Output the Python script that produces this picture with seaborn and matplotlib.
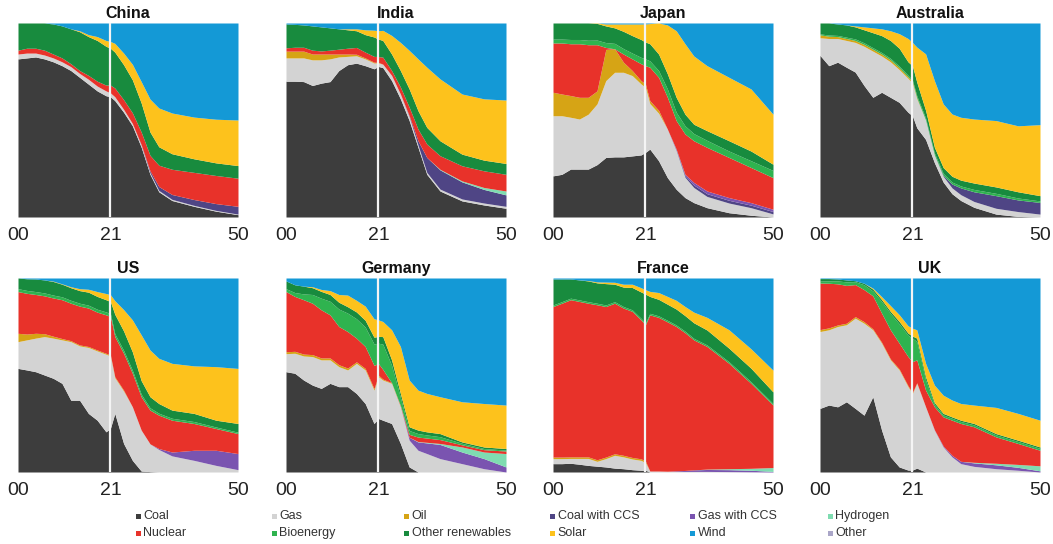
import matplotlib
matplotlib.use("Agg")
import matplotlib.pyplot as plt
from matplotlib.patches import Rectangle
import pandas as pd
import seaborn as sns

# Years sampled for every country (history to 2021, projection after)
YEARS = [2000, 2002, 2004, 2006, 2008, 2010, 2012, 2014, 2016, 2018, 2020, 2021,
         2022, 2024, 2026, 2028, 2030, 2032, 2035, 2040, 2045, 2050]
PROJECTION_START = 2021
TICK_YEARS = [2000, 2021, 2050]
TICK_LABELS = ["00", "21", "50"]

SOURCES = ["Coal", "Gas", "Oil", "Coal with CCS", "Gas with CCS", "Hydrogen",
           "Nuclear", "Bioenergy", "Other renewables", "Solar", "Wind", "Other"]
COLORS = ["#3d3d3d", "#d3d3d3", "#d6a415", "#4f4585", "#7a54b0", "#7fdcb1",
          "#e8322a", "#2fb34f", "#188b3e", "#fdc21c", "#1499d6", "#aaa6c8"]

# Share of electricity generation by source, %
CHINA = {
    "Coal": [81.5, 82, 82.5, 81.5, 80, 78, 75.5, 72, 68.5, 65, 62.5, 62,
             60, 54, 47, 36, 22, 13, 8.5, 5.5, 3, 1.2],
    "Gas": [2.5, 2.5, 2, 2, 2, 2, 2, 2, 2.5, 2.5, 2.5, 2,
            2, 1.5, 1.2, 1, 0.8, 0.7, 0.6, 0.5, 0.4, 0.3],
    "Coal with CCS": [0, 0, 0, 0, 0, 0, 0, 0, 0, 0, 0, 0,
                      0, 0, 0, 0.3, 1, 2, 2.5, 3, 3.5, 4],
    "Nuclear": [2, 2.5, 2.5, 2.5, 2, 2, 1.5, 1.5, 2, 2.5, 3, 4,
                4.5, 5, 5.5, 6.5, 8, 11, 13, 14, 14.5, 14.5],
    "Other renewables": [14, 13, 13, 14, 15.5, 16.5, 18, 20, 20, 21, 20, 19,
                         18.5, 18, 17, 15, 12, 9.5, 8, 7, 6.5, 6.5],
    "Solar": [0, 0, 0, 0, 0, 0, 0, 0.5, 1, 2, 3, 3.5,
              4.5, 6, 8, 11, 17, 20, 21, 21.5, 22.5, 23.5],
    "Wind": [0, 0, 0, 0, 0.5, 1.5, 3, 4, 6, 7, 9, 9.5,
             10.5, 15.5, 21.3, 30.2, 39.2, 43.8, 46.4, 48.5, 49.6, 50],
}

INDIA = {
    "Coal": [70, 70, 69.8, 67.8, 69, 69.8, 75.5, 78.5, 79.3, 78, 76.4, 77.6,
             77, 70.3, 60.9, 49.7, 35.9, 22, 13.4, 8.3, 6.2, 4.5],
    "Gas": [12, 12, 12.2, 13.2, 12, 11.7, 7, 4.3, 3.8, 3.5, 3, 1.8,
            1.8, 2.7, 2.5, 2, 1.2, 1, 1, 1, 1, 1],
    "Oil": [3.5, 3.5, 3.5, 3, 3, 2.5, 1.5, 1.2, 0.8, 0.5, 0.4, 0.3,
            0, 0, 0, 0, 0, 0, 0, 0, 0, 0],
    "Coal with CCS": [0, 0, 0, 0, 0, 0, 0, 0, 0, 0, 0, 0,
                      0, 0, 0, 0.5, 2.2, 7.7, 9.9, 8.8, 7, 5.9],
    "Hydrogen": [0, 0, 0, 0, 0, 0, 0, 0, 0, 0, 0, 0,
                 0, 0, 0, 0, 0, 0, 0.3, 0.5, 1, 2],
    "Nuclear": [1.7, 2, 2, 2, 1.6, 2, 2.5, 3, 3.5, 3, 3, 3,
                3.6, 2.5, 3.6, 4.4, 6, 6.9, 7, 7.8, 8.6, 8.6],
    "Other renewables": [12.3, 11.8, 11.5, 12.5, 12.4, 11.5, 10.5, 9.5, 8.6, 9, 10, 9,
                         8.6, 8.5, 8.5, 9.4, 9.5, 8.6, 7.7, 6, 5.5, 5.6],
    "Solar": [0, 0, 0, 0, 0, 0, 0, 0.5, 1, 2.5, 3.5, 4.3,
              5.2, 9.6, 14.5, 19.9, 26.7, 31, 31.9, 31, 31.6, 32.7],
    "Wind": [0.5, 0.7, 1, 1.5, 2, 2.5, 3, 3, 3, 3.5, 3.7, 4,
             3.8, 6.4, 10, 14.1, 18.5, 22.8, 28.8, 36.6, 39.1, 39.7],
}

JAPAN = {
    "Coal": [21.2, 22, 24.7, 24.7, 24.7, 27, 30.7, 31, 31, 31.5, 32, 33.3,
             35, 29, 20.3, 14.3, 10, 7.4, 4.8, 2.2, 0.9, 0],
    "Gas": [31, 30.2, 26.7, 25.8, 28.3, 31.3, 39.6, 43.6, 43.6, 41.4, 36.6, 33.6,
            23.5, 24.5, 25, 20, 10.5, 7.8, 5.8, 5, 3.9, 1.6],
    "Oil": [12.1, 11.2, 11.2, 11.2, 8.7, 6.7, 16.1, 12.1, 5.2, 2.6, 1.7, 1.7,
            1.5, 1.5, 0, 0, 0, 0, 0, 0, 0, 0],
    "Coal with CCS": [0, 0, 0, 0, 0, 0, 0, 0, 0, 0, 0, 0,
                      0, 0, 0, 0.35, 0.8, 1.3, 1.4, 1.4, 1.3, 1.2],
    "Gas with CCS": [0, 0, 0, 0, 0, 0, 0, 0, 0, 0, 0, 0,
                     0, 0, 0, 0.35, 0.7, 1.3, 1.4, 1.4, 1.3, 1.2],
    "Nuclear": [25.4, 26.3, 26.7, 27.6, 27.1, 23.8, 1, 0, 4.2, 6, 8.7, 9.4,
                17.2, 17, 16.4, 14.7, 20.8, 21.5, 22.5, 20.7, 18.1, 16.3],
    "Bioenergy": [2, 2, 2.2, 2.2, 2.3, 2.4, 2.5, 2.8, 2.8, 3, 3.3, 3.5,
                  3.3, 3.5, 4.3, 4.3, 4.2, 3.7, 3.6, 3.3, 3.5, 3.7],
    "Other renewables": [8.3, 8.3, 8.5, 8.5, 8.9, 8.6, 8.6, 8, 8.9, 9, 9.2, 8.7,
                         8.8, 8.5, 7.8, 7.7, 6, 4.8, 5, 5.3, 5, 3.2],
    "Solar": [0, 0, 0, 0, 0, 0.2, 1, 2, 3.8, 6, 8, 9.3,
              10.4, 16, 25.2, 34.3, 36.3, 35.2, 33.5, 32.7, 32, 25.8],
    "Wind": [0, 0, 0, 0, 0, 0, 0.5, 0.5, 0.5, 0.5, 0.5, 0.5,
             0.3, 0, 1, 4, 10.7, 17, 22, 28, 34, 47],
}

AUSTRALIA = {
    "Coal": [83.3, 78, 79.8, 77.2, 74.7, 67.8, 61.7, 64.3, 61.7, 59.1, 54, 52.2,
             46, 40, 28, 18, 12, 8.5, 5, 1.5, 0.3, 0],
    "Gas": [9.1, 14, 12.2, 13.8, 15.3, 20.2, 23.8, 18.7, 18.3, 16.9, 17.5, 16.8,
            15, 10, 4, 3, 3, 3, 3, 3, 2.5, 1.5],
    "Oil": [1.5, 1.2, 1, 1, 1, 1, 1, 1, 1, 1, 0.8, 0.8,
            0.5, 0, 0, 0, 0, 0, 0, 0, 0, 0],
    "Coal with CCS": [0, 0, 0, 0, 0, 0, 0, 0, 0, 0, 0, 0,
                      0, 0, 0, 0.5, 2, 3.5, 5, 6.5, 6, 6],
    "Bioenergy": [0.5, 0.6, 0.6, 0.7, 0.8, 0.8, 0.8, 0.8, 0.8, 0.8, 0.8, 0.8,
                  1, 1, 1, 1, 1, 1, 1.2, 1.2, 1, 0.8],
    "Other renewables": [5.6, 6.2, 5.9, 6.3, 6.2, 6.7, 7.7, 8.7, 9.2, 9.2, 6.9, 7.4,
                         7, 4, 3, 3, 3, 3, 3.3, 3.3, 3.2, 2.7],
    "Solar": [0, 0, 0, 0, 0.5, 1.5, 2.5, 3.5, 5, 7.5, 12, 12,
              18.1, 29.1, 34.3, 32.8, 32.1, 32.4, 33, 34.2, 34, 36.6],
    "Wind": [0, 0, 0.5, 1, 1.5, 2, 2.5, 3, 4, 5.5, 8, 10,
             12.4, 15.9, 29.7, 41.7, 46.9, 48.6, 49.5, 50.3, 53, 52.4],
}

US = {
    "Coal": [53.4, 52.6, 51.7, 50, 48.3, 45.7, 37, 37, 30.2, 26.7, 20.7, 22.5,
             30.2, 14.7, 6, 0.5, 0.2, 0, 0, 0, 0, 0],
    "Gas": [13.8, 15.5, 17.3, 19.8, 20.7, 22.4, 30.2, 28, 34, 35.7, 40, 37.3,
            18.4, 27, 27.6, 21.1, 14.3, 11.6, 8.3, 6, 3.4, 1.2],
    "Oil": [4.3, 3, 2.5, 1.5, 1, 0.7, 0.5, 0.5, 0.5, 0.5, 0.5, 0.5,
            0.5, 0.5, 0, 0, 0, 0, 0, 0, 0, 0],
    "Gas with CCS": [0, 0, 0, 0, 0, 0, 0, 0, 0, 0, 0, 0,
                     0, 0, 0, 0, 0, 0.5, 2, 5.2, 7.8, 8.3],
    "Nuclear": [21.5, 21, 20, 19.5, 19.7, 20, 19.3, 20, 19.8, 19.5, 19.8, 19.9,
                20.7, 19, 17.3, 17.2, 17.4, 17.2, 16.4, 13.8, 11.2, 10.3],
    "Bioenergy": [1.5, 1.5, 1.5, 1.5, 1.5, 1.5, 1.5, 1.5, 1.5, 1.5, 1.5, 1.5,
                  1.5, 1.5, 1.5, 1.3, 1.2, 1, 1, 1, 0.8, 0.7],
    "Other renewables": [5.5, 6, 6.5, 6.7, 7, 6.5, 6.5, 6.5, 6.7, 6.6, 6.3, 6.2,
                         10, 10, 9.5, 7, 5.7, 5, 4.2, 4.2, 3.5, 4.5],
    "Solar": [0, 0, 0, 0, 0.2, 0.2, 0.5, 1, 1.5, 2.5, 3.2, 3.5,
              7, 11, 16.5, 23.6, 24.1, 23.3, 24.1, 24.5, 27.6, 28.4],
    "Wind": [0, 0.4, 0.5, 1, 1.6, 3, 4.5, 5.5, 5.8, 7, 8, 8.6,
             11.7, 16.3, 21.6, 29.3, 37.1, 41.4, 44, 45.3, 45.7, 46.6],
}

GERMANY = {
    "Coal": [51.7, 50.9, 47.4, 44.8, 43.1, 45.7, 44, 44, 40.5, 35.3, 25, 27.6,
             26.7, 25, 14.7, 2.6, 0, 0, 0, 0, 0, 0],
    "Gas": [9.3, 10.3, 12.4, 14.7, 14.7, 12.1, 10.3, 8.6, 15.5, 17.3, 17.2, 21.5,
            20.7, 20.7, 18.9, 13.8, 11.2, 9.5, 6.9, 4.3, 1.7, 0],
    "Oil": [1, 1, 1, 1, 1, 1, 1, 1, 0.8, 0.8, 0.8, 0.8,
            0.5, 0.3, 0.2, 0, 0, 0, 0, 0, 0, 0],
    "Gas with CCS": [0, 0, 0, 0, 0, 0, 0, 0, 0, 0, 0, 0,
                     0, 0, 0, 1.5, 4.3, 5.5, 7.3, 6, 5.2, 2.6],
    "Hydrogen": [0, 0, 0, 0, 0, 0, 0, 0, 0, 0, 0, 0,
                 0, 0, 0, 0, 0.2, 0.3, 0.5, 2.6, 3.4, 6.9],
    "Nuclear": [31, 28.3, 28, 26.5, 24.8, 22.2, 19.7, 18.8, 12.2, 11.3, 12, 6,
                5, 0, 0.5, 1.5, 2.3, 2.2, 2, 1.1, 1.2, 1.3],
    "Bioenergy": [1.5, 2, 3, 4.5, 6, 7, 9, 9.5, 10, 10, 11, 10.5,
                  13, 9, 4.2, 2, 1.8, 1.6, 1.5, 0.8, 0.6, 0.5],
    "Other renewables": [4, 4, 4, 3.5, 3.5, 3.5, 3.5, 3.3, 3.5, 3.5, 3.5, 3.5,
                         3.9, 2.8, 2, 1.9, 1.8, 1.6, 1.6, 0.7, 0.8, 0.8],
    "Solar": [0, 0, 0, 0.5, 1, 2, 4, 6, 6, 7.3, 9.5, 8.5,
              7.8, 15.5, 24.2, 24.1, 20.6, 19.8, 19, 20.7, 22.4, 22.4],
    "Wind": [1.5, 3.5, 4.2, 4.5, 5.9, 6.5, 8.5, 8.8, 11.5, 14.5, 21, 21.6,
             22.4, 26.7, 35.3, 52.6, 57.8, 59.5, 61.2, 63.8, 64.7, 65.5],
}

FRANCE = {
    "Coal": [4.3, 4.3, 4.5, 4, 3.4, 3, 2.6, 2, 1.7, 1.2, 0.9, 0.9,
             0, 0, 0, 0, 0, 0, 0, 0, 0, 0],
    "Gas": [2.6, 2.6, 2.5, 3, 3.6, 2.5, 4.3, 6.6, 6.1, 5.5, 5.1, 4,
            0.5, 0.5, 0.4, 0.3, 0.3, 0.3, 0.3, 0.2, 0.1, 0],
    "Oil": [0.8, 0.8, 0.8, 0.8, 0.8, 0.8, 0.8, 0.8, 0.8, 0.8, 0.8, 0.8,
            0, 0, 0, 0, 0, 0, 0, 0, 0, 0],
    "Gas with CCS": [0, 0, 0, 0, 0, 0, 0, 0, 0, 0, 0, 0,
                     0, 0, 0, 0.3, 0.5, 0.8, 1, 1, 0.8, 0.3],
    "Hydrogen": [0, 0, 0, 0, 0, 0, 0, 0, 0, 0, 0, 0,
                 0, 0, 0, 0, 0, 0, 0.2, 0.5, 1, 2],
    "Nuclear": [77.6, 79.3, 81, 80.1, 79.2, 79.9, 77.6, 77.6, 75.9, 75.3, 71.6, 70.2,
                80.5, 79.2, 77, 74.4, 71, 67, 63.2, 54.3, 43.8, 32.2],
    "Bioenergy": [0.8, 0.8, 0.8, 0.8, 0.8, 0.8, 0.8, 0.8, 0.8, 0.8, 0.8, 0.8,
                  0.8, 0.8, 0.8, 0.8, 0.8, 0.8, 0.8, 0.8, 0.8, 0.8],
    "Other renewables": [13.4, 11.7, 9.9, 10.3, 10.7, 10.5, 11, 9, 10, 11.5, 13.6, 15,
                         8.7, 8.5, 8.3, 8.2, 8, 8, 7.7, 7, 7, 6],
    "Solar": [0, 0, 0, 0, 0.2, 0.5, 0.8, 1, 1.5, 1.7, 2.2, 2.3,
              2.6, 3.5, 4, 4.5, 4.7, 5.5, 6.5, 9.5, 10, 11.2],
    "Wind": [0.5, 0.5, 0.5, 1, 1.3, 2, 2.1, 2.2, 3.2, 3.2, 5, 6,
             6.9, 7.5, 9.5, 11.5, 14.7, 17.6, 20.3, 26.7, 36.5, 47.5],
}

UK = {
    "Coal": [32.8, 34.5, 33.6, 36.2, 32.8, 29.3, 38.8, 21.6, 7.8, 2.6, 1, 1,
             2, 0, 0, 0, 0, 0, 0, 0, 0, 0],
    "Gas": [39.6, 38.8, 41.4, 39.7, 46.5, 47.4, 34.5, 44.8, 50, 50, 43, 39.5,
            43.7, 33.6, 21.6, 12.9, 7.8, 4.3, 2.9, 1.7, 0.9, 0],
    "Oil": [1, 1, 0.8, 0.8, 0.8, 0.8, 0.5, 0.5, 0.5, 0.5, 0.5, 0.5,
            0.3, 0, 0, 0, 0, 0, 0, 0, 0, 0],
    "Gas with CCS": [0, 0, 0, 0, 0, 0, 0, 0, 0, 0, 0, 0,
                     0, 0, 0.2, 0.5, 0.8, 1.2, 1.8, 2, 1.5, 0.6],
    "Hydrogen": [0, 0, 0, 0, 0, 0, 0, 0, 0, 0, 0, 0,
                 0, 0, 0, 0, 0, 0, 0.3, 0.8, 1.5, 2.6],
    "Nuclear": [24, 23, 21.2, 19.5, 16.5, 16.5, 17, 15, 15, 13.3, 15, 15.9,
                11.8, 8.6, 11.8, 15, 18.1, 19.5, 18.3, 13.6, 10.8, 8],
    "Bioenergy": [1, 1.2, 1.5, 1.8, 1.5, 2.5, 2.5, 6, 8.5, 10, 11, 12,
                  9.5, 5.3, 1.2, 1, 1, 1, 1, 1, 1, 1],
    "Other renewables": [1.3, 1.2, 1, 1, 0.5, 0.8, 1, 1, 1, 1.2, 1.1, 1.2,
                         1.7, 1.6, 1, 0.8, 0.7, 0.7, 0.7, 0.7, 0.7, 0.7],
    "Solar": [0, 0, 0, 0, 0, 0, 0.5, 1.5, 3, 3.5, 3.8, 4,
              4.3, 6.9, 9, 9.4, 8.7, 8.6, 9.5, 13.5, 13.8, 13.8],
    "Wind": [0.3, 0.3, 0.5, 1, 1.4, 2.7, 5.2, 9.6, 14.2, 18.9, 24.6, 25.9,
             26.7, 44, 55.2, 60.4, 62.9, 64.7, 65.5, 66.7, 69.8, 73.3],
}

PANELS = [("China", CHINA), ("India", INDIA), ("Japan", JAPAN), ("Australia", AUSTRALIA),
          ("US", US), ("Germany", GERMANY), ("France", FRANCE), ("UK", UK)]

sns.set_theme(style="white")
plt.rcParams["font.family"] = ["Liberation Sans", "DejaVu Sans"]

W, H = 1053, 544
fig = plt.figure(figsize=(W / 100, H / 100), dpi=100)

# panel geometry in pixels: left edges, top edges, size
col_left = [18, 286, 553, 820]
row_top = [23, 278]
pw, ph = 220, 194

for i, (name, data) in enumerate(PANELS):
    row, col = divmod(i, 4)
    ax = fig.add_axes([col_left[col] / W, 1 - (row_top[row] + ph) / H, pw / W, ph / H])
    frame = pd.DataFrame(data, index=YEARS).reindex(columns=SOURCES, fill_value=0.0)
    shares = frame.div(frame.sum(axis=1), axis=0) * 100
    ax.stackplot(shares.index, shares.T.values, colors=COLORS, linewidth=0)
    ax.axvline(PROJECTION_START, color="#f4f4f4", lw=1.6)
    ax.set_xlim(YEARS[0], YEARS[-1])
    ax.set_ylim(0, 100)
    ax.set_xticks(TICK_YEARS, TICK_LABELS)
    ax.set_yticks([])
    ax.tick_params(axis="x", length=0, pad=7, labelsize=14, labelcolor="#222222")
    for s in ax.spines.values():
        s.set_visible(False)
    ax.set_title(name, fontweight="bold", fontsize=11.5, pad=3.5, color="#111111")

# legend laid out in fixed-width columns, two rows
leg_x = [136, 272, 404, 550, 690, 828]
leg_y = [516, 533]
sq = 5
for i, (label, color) in enumerate(zip(SOURCES, COLORS)):
    r, c = divmod(i, 6)
    x, y = leg_x[c], leg_y[r]
    fig.patches.append(Rectangle((x / W, 1 - (y + sq / 2) / H), sq / W, sq / H,
                                 transform=fig.transFigure, facecolor=color,
                                 edgecolor="none"))
    fig.text((x + sq + 2.5) / W, 1 - y / H, label, fontsize=9, color="#333333",
             ha="left", va="center")

fig.savefig("out.png", dpi=100)
